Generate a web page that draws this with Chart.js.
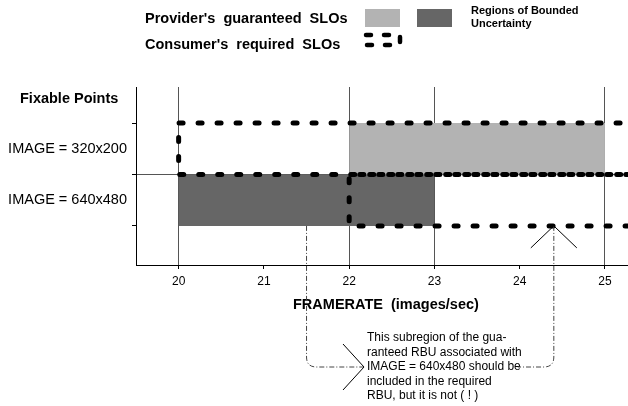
<!DOCTYPE html>
<html>
<head>
<meta charset="utf-8">
<script src="https://cdn.jsdelivr.net/npm/chart.js@4/dist/chart.umd.min.js"></script>
<style>
  body { margin: 0; background: #fff; }
  #wrap { position: relative; width: 628px; height: 406px; }
</style>
</head>
<body>
<div id="wrap"><canvas id="slo-chart"></canvas></div>
<script>
// framerate ticks (images/sec) and where the thin vertical lines go
var xTicks = [20, 21, 22, 23, 24, 25];
var xGridAt = [20, 22, 23, 25];

// rows of fixable points: IMAGE = 640x480 sits between 1 and 2, 320x200 between 2 and 3
var rowEdges = [1, 2, 3];
var rowLabels = ["IMAGE = 640x480", "IMAGE = 320x200"];

// provider's guaranteed SLOs (x from, x to, y from, y to)
var guaranteedLight = [22, 25, 2, 3];
var guaranteedDark = [20, 23, 1, 2];

// consumer's required SLOs, open towards higher framerates
var required320X = [25.4, 20, 20, 25.4];
var required320Y = [3, 3, 2, 2];
var required640X = [25.4, 22, 22, 25.4];
var required640Y = [1, 1, 2, 2];

// note pointers (framerate where each dash-dot line drops from)
var noteFrom = [21.5, 24.4];
var noteLines = [
  "This subregion of the gua-",
  "ranteed RBU associated with",
  "IMAGE = 640x480 should be",
  "included in the required",
  "RBU, but it is not ( ! )"
];

var FONT = "'Liberation Sans', Arial, Helvetica, sans-serif";

function pts(xs, ys) {
  return xs.map(function(x, i) { return { x: x, y: ys[i] }; });
}
function edge(r, yv) {
  return [{ x: r[0], y: yv }, { x: r[1], y: yv }];
}

var dashed = {
  borderColor: "#000",
  borderWidth: 5,
  borderDash: [4, 15],
  borderCapStyle: "round",
  pointRadius: 0,
  fill: false,
  tension: 0
};

var notePlugin = {
  id: "notes",
  afterDraw: function(chart) {
    var c = chart.ctx, xs = chart.scales.x, ys = chart.scales.y;
    c.save();
    c.fillStyle = "#000";
    c.textBaseline = "middle";

    // legend
    c.font = "bold 14.5px " + FONT;
    c.fillText("Provider's  guaranteed  SLOs", 145, 19);
    c.fillText("Consumer's  required  SLOs", 145, 45);
    c.fillStyle = "#b3b3b3";
    c.fillRect(365, 9, 35, 18);
    c.fillStyle = "#666666";
    c.fillRect(417, 9, 35, 18);
    c.fillStyle = "#000";
    c.font = "bold 11px " + FONT;
    c.fillText("Regions of Bounded", 471, 11);
    c.fillText("Uncertainty", 471, 24);
    c.lineWidth = 4.5;
    c.lineCap = "round";
    c.setLineDash([5, 13]);
    c.strokeStyle = "#000";
    c.strokeRect(366, 35, 34, 10);
    c.setLineDash([]);

    // axis titles
    c.font = "bold 14.5px " + FONT;
    c.fillText("Fixable Points", 20, 99);
    c.fillText("FRAMERATE  (images/sec)", 293, 305);

    // note text
    c.font = "12px " + FONT;
    var tx = 367, ty = 338, lh = 14.5;
    noteLines.forEach(function(t, i) { c.fillText(t, tx, ty + i * lh); });
    var yMid = ty + 2 * lh;
    var textEnd = tx + c.measureText(noteLines[2]).width;

    // dash-dot connectors
    var bottom = ys.getPixelForValue(rowEdges[0]);
    var xl = xs.getPixelForValue(noteFrom[0]);
    var xr = xs.getPixelForValue(noteFrom[1]);
    c.lineWidth = 1;
    c.lineCap = "butt";
    c.strokeStyle = "#444";
    c.setLineDash([5, 2, 1, 2]);
    c.beginPath();
    c.moveTo(xl, bottom);
    c.lineTo(xl, yMid - 10);
    c.quadraticCurveTo(xl, yMid, xl + 10, yMid);
    c.lineTo(tx - 4, yMid);
    c.moveTo(xr, bottom);
    c.lineTo(xr, yMid - 10);
    c.quadraticCurveTo(xr, yMid, xr - 10, yMid);
    c.lineTo(textEnd - 3, yMid);
    c.stroke();
    c.setLineDash([]);

    // arrow heads
    c.strokeStyle = "#000";
    c.beginPath();
    c.moveTo(tx - 24, yMid - 23);
    c.lineTo(tx - 3, yMid);
    c.lineTo(tx - 24, yMid + 23);
    c.moveTo(xr - 23, bottom + 22);
    c.lineTo(xr, bottom);
    c.lineTo(xr + 23, bottom + 22);
    c.stroke();
    c.restore();
  }
};

new Chart(document.getElementById("slo-chart"), {
  type: "line",
  data: {
    datasets: [
      Object.assign({ label: "required 320x200", data: pts(required320X, required320Y) }, dashed),
      Object.assign({ label: "required 640x480", data: pts(required640X, required640Y) }, dashed, { borderDashOffset: 9 }),
      { label: "light top", data: edge(guaranteedLight, guaranteedLight[3]), borderWidth: 0, pointRadius: 0, fill: false },
      { label: "light", data: edge(guaranteedLight, guaranteedLight[2]), borderWidth: 0, pointRadius: 0,
        fill: "-1", backgroundColor: "#b3b3b3" },
      { label: "dark top", data: edge(guaranteedDark, guaranteedDark[3]), borderWidth: 0, pointRadius: 0, fill: false },
      { label: "dark", data: edge(guaranteedDark, guaranteedDark[2]), borderWidth: 0, pointRadius: 0,
        fill: "-1", backgroundColor: "#666666" }
    ]
  },
  options: {
    responsive: true,
    maintainAspectRatio: false,
    animation: false,
    layout: { padding: { top: 87, left: 0, right: 0, bottom: 0 } },
    plugins: { legend: { display: false }, tooltip: { enabled: false } },
    scales: {
      x: {
        type: "linear",
        min: 19.5,
        max: 25.27,
        afterBuildTicks: function(s) { s.ticks = xTicks.map(function(v) { return { value: v }; }); },
        afterFit: function(s) { s.height = 141; },
        grid: {
          color: function(ctx) { return ctx.tick && xGridAt.indexOf(ctx.tick.value) >= 0 ? "#555" : "rgba(0,0,0,0)"; },
          tickColor: "#000",
          tickLength: 4,
          lineWidth: 1
        },
        border: { color: "#000", width: 1 },
        ticks: { color: "#000", padding: 5, font: { family: FONT, size: 12 } }
      },
      y: {
        type: "linear",
        min: 0.24,
        max: 3.7,
        afterBuildTicks: function(s) {
          s.ticks = [1, 1.5, 2, 2.5, 3].map(function(v) { return { value: v }; });
        },
        afterFit: function(s) { s.width = 136; },
        grid: {
          color: function(ctx) { return ctx.tick && ctx.tick.value === rowEdges[1] ? "#555" : "rgba(0,0,0,0)"; },
          tickColor: function(ctx) { return ctx.tick && rowEdges.indexOf(ctx.tick.value) >= 0 ? "#000" : "rgba(0,0,0,0)"; },
          tickLength: 4
        },
        border: { color: "#000", width: 1 },
        ticks: {
          color: "#000",
          padding: 5,
          font: { family: FONT, size: 14.5 },
          callback: function(v) {
            if (v === 1.5) return rowLabels[0];
            if (v === 2.5) return rowLabels[1];
            return "";
          }
        }
      }
    }
  },
  plugins: [notePlugin]
});
</script>
</body>
</html>
